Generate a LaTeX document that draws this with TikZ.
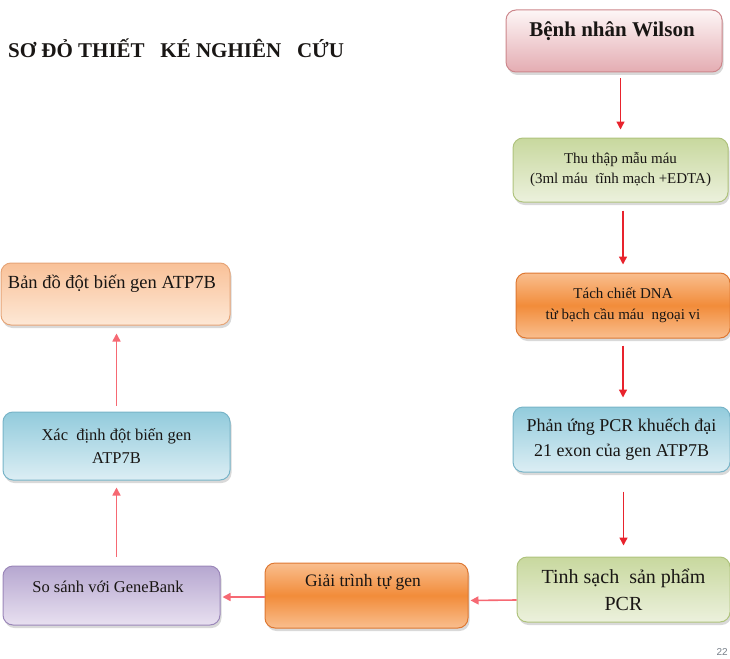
\documentclass[tikz,border=0pt]{standalone}
\usepackage{fontspec}
\setmainfont{Liberation Serif}
\newfontfamily\pagefont{Liberation Sans}
\usetikzlibrary{arrows.meta,shadows,calc}

% box fills
\definecolor{pinkTop}{RGB}{253,246,246}
\definecolor{pinkBot}{RGB}{228,172,178}
\definecolor{pinkLine}{RGB}{205,135,140}
\definecolor{grnTop}{RGB}{200,216,158}
\definecolor{grnBot}{RGB}{236,241,221}
\definecolor{grnLine}{RGB}{175,195,125}
\definecolor{orgEdge}{RGB}{249,190,142}
\definecolor{orgMid}{RGB}{242,140,58}
\definecolor{orgLine}{RGB}{222,120,50}
\definecolor{bluTop}{RGB}{146,203,220}
\definecolor{bluBot}{RGB}{220,238,244}
\definecolor{bluLine}{RGB}{120,180,200}
\definecolor{purTop}{RGB}{182,167,208}
\definecolor{purBot}{RGB}{232,224,240}
\definecolor{purLine}{RGB}{155,135,185}
\definecolor{peachTop}{RGB}{249,193,152}
\definecolor{peachBot}{RGB}{253,232,214}
\definecolor{peachLine}{RGB}{230,165,120}
% connectors and text
\definecolor{arrRed}{RGB}{232,35,45}
\definecolor{arrPink}{RGB}{246,105,115}
\definecolor{ink}{RGB}{25,22,20}
\definecolor{pageGray}{RGB}{120,128,138}

\tikzset{
  box/.style={rounded corners=10pt, line width=1pt, inner sep=0pt,
    align=center, text=ink,
    drop shadow={shadow xshift=1.5pt, shadow yshift=-3pt, opacity=0.3}},
  pinkbox/.style={box, draw=pinkLine, top color=pinkTop, bottom color=pinkBot},
  greenbox/.style={box, draw=grnLine, top color=grnTop, bottom color=grnBot},
  orangebox/.style={box, draw=orgLine, top color=orgEdge, bottom color=orgEdge, middle color=orgMid},
  bluebox/.style={box, draw=bluLine, top color=bluTop, bottom color=bluBot},
  purplebox/.style={box, draw=purLine, top color=purTop, bottom color=purBot},
  peachbox/.style={box, draw=peachLine, top color=peachTop, bottom color=peachBot},
  boxtext/.style={anchor=base, inner sep=0pt, text=ink},
  arrR/.style={draw=arrRed, line width=1.4pt, -{Triangle[length=8pt,width=8pt]}},
  arrP/.style={draw=arrPink, line width=1.6pt, -{Triangle[length=8pt,width=8pt]}},
}

\begin{document}
\begin{tikzpicture}[x=1pt,y=-1pt]
\useasboundingbox (0,0) rectangle (730,658);

% title
\node[anchor=base west, inner sep=0pt, text=ink, font=\bfseries\fontsize{21}{24}\selectfont]
  (title) at (8,58) {SƠ ĐỎ THIẾT\ \ \ KÉ NGHIÊN\ \ \ CỨU};

% right column, top to bottom
\node[pinkbox, minimum width=216pt, minimum height=62pt] (b1) at (614,41) {};
\node[boxtext, font=\bfseries\fontsize{21}{24}\selectfont] (t1) at (612,37) {Bệnh nhân Wilson};

\node[greenbox, minimum width=215pt, minimum height=64pt,
  font=\fontsize{15}{20}\selectfont] (b2) at (620.5,170)
  {Thu thập mẫu máu\\(3ml máu\ \ tĩnh mạch +EDTA)};

\node[orangebox, minimum width=214pt, minimum height=65pt,
  font=\fontsize{15}{21}\selectfont] (b3) at (623,305.5)
  {Tách chiết DNA\\từ bạch cầu máu\ \ ngoại vi};

\node[bluebox, minimum width=217pt, minimum height=65pt,
  font=\fontsize{18}{25}\selectfont] (b4) at (621.5,439.5)
  {Phản ứng PCR khuếch đại\\21 exon của gen ATP7B};

\node[greenbox, minimum width=213pt, minimum height=65pt,
  font=\fontsize{20}{27}\selectfont] (b5) at (623.5,589.5)
  {Tinh sạch\ \ sản phẩm\\PCR};

% bottom row, right to left
\node[orangebox, minimum width=203pt, minimum height=65pt] (b6) at (366.5,595.5) {};
\node[boxtext, font=\fontsize{17.5}{20}\selectfont] (t6) at (363,586) {Giải trình tự gen};

\node[purplebox, minimum width=217pt, minimum height=59pt] (b7) at (111.5,595.5) {};
\node[boxtext, font=\fontsize{16.5}{20}\selectfont] (t7) at (108,592) {So sánh với GeneBank};

% left column, bottom to top
\node[bluebox, minimum width=227pt, minimum height=68pt,
  font=\fontsize{16.5}{23}\selectfont] (b8) at (116.5,446)
  {Xác\ \ định đột biến gen\\ATP7B};

\node[peachbox, minimum width=229pt, minimum height=62pt] (b9) at (115.5,294) {};
\node[boxtext, font=\fontsize{18.5}{20}\selectfont] (t9) at (112,288) {Bản đồ đột biến gen ATP7B};

% connectors
\draw[arrR, shorten <=6pt, shorten >=8pt] (b2.north |- b1.south) -- (b2.north);
\draw[arrR, shorten <=8pt, shorten >=8pt] (b3.north |- b2.south) -- (b3.north);
\draw[arrR, shorten <=7pt, shorten >=9pt] (b3.south) -- (b3.south |- b4.north);
\draw[arrR, shorten <=19pt, shorten >=11pt] (b5.north |- b4.south) -- (b5.north);
\draw[arrP, shorten >=2pt] ($(b5.west)+(0,10.5)$) -- ($(b6.east)+(0,5)$);
\draw[arrP, shorten >=2pt] ($(b6.west)+(0,1.5)$) -- ($(b7.east)+(0,1.5)$);
\draw[arrP, shorten <=9pt, shorten >=7pt] (b8.south |- b7.north) -- (b8.south);
\draw[arrP, shorten <=6pt, shorten >=8pt] (b8.north) -- (b8.north |- b9.south);

% slide number
\node[anchor=base east, inner sep=0pt, text=pageGray, font=\pagefont\fontsize{10}{12}\selectfont]
  (pg) at (728,655) {22};
\end{tikzpicture}
\end{document}
